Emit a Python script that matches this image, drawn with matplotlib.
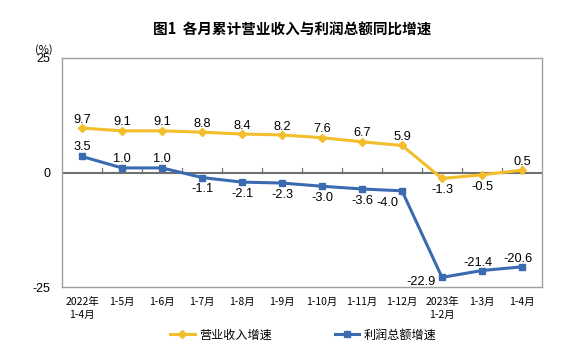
import matplotlib
matplotlib.use("Agg")
import matplotlib.pyplot as plt
from matplotlib.lines import Line2D

plt.rcParams['font.family'] = ['Liberation Sans', 'Noto Sans CJK SC', 'DejaVu Sans']

categories = ["2022年\n1-4月", "1-5月", "1-6月", "1-7月", "1-8月", "1-9月", "1-10月",
              "1-11月", "1-12月", "2023年\n1-2月", "1-3月", "1-4月"]
revenue = [9.7, 9.1, 9.1, 8.8, 8.4, 8.2, 7.6, 6.7, 5.9, -1.3, -0.5, 0.5]
profit = [3.5, 1.0, 1.0, -1.1, -2.1, -2.3, -3.0, -3.6, -4.0, -22.9, -21.4, -20.6]
yticks = [-25, 0, 25]

rev_color = "#F2BE2C"
prof_color = "#3A6BB0"
cjk = ['Noto Sans CJK SC', 'DejaVu Sans']

fig = plt.figure(figsize=(5.82, 3.48), dpi=100)
ax = fig.add_axes([62 / 582, 1 - 287 / 348, 480 / 582, 229 / 348])

x = list(range(len(categories)))
ax.plot(x, revenue, color=rev_color, lw=2.2, marker="D", ms=4.5, zorder=3)
ax.plot(x, profit, color=prof_color, lw=2.2, marker="s", ms=4.5, zorder=3)

ax.set_xlim(-0.5, len(categories) - 0.5)
ax.set_ylim(-25, 25)
ax.set_yticks(yticks)
ax.set_yticklabels([str(v) for v in yticks], fontsize=9)
ax.tick_params(axis="y", length=0, pad=8.5)
ax.set_xticks([])

for s in ax.spines.values():
    s.set_color("#A0A0A0")
    s.set_linewidth(1.0)

# zero line with small category-boundary ticks
ax.axhline(0, color="#707070", lw=1.5, zorder=2)
for b in range(1, len(categories)):
    ax.plot([b - 0.5, b - 0.5], [0, 0.9], color="#707070", lw=0.9, zorder=2)

# category labels below the frame
for i, lab in enumerate(categories):
    ax.text(i, -27.2, lab, ha="center", va="top", fontsize=7.5,
            family=cjk, linespacing=1.4, clip_on=False)


def label(i, v, dx, dy):
    ax.annotate(f"{v:.1f}", (i, v), xytext=(dx, dy), textcoords="offset points",
                ha="center", va="center", fontsize=9.2)


# value labels: above the point when rising, below when falling
for i, v in enumerate(revenue):
    label(i, v, 0, 6 if v >= 0 else -8.5)

for i, v in enumerate(profit):
    if v >= 0:
        label(i, v, 0, 6.5)
    elif i == 8:
        label(i, v, -10.5, -8.5)
    elif i == 9:
        label(i, v, -15, -3.5)
    elif i >= 10:
        label(i, v, -3, 5.5)
    else:
        label(i, v, 0, -8.5)

ax.text(-0.0375, 1.015, "(%)", transform=ax.transAxes, ha="center", va="bottom",
        fontsize=8, family=cjk)

fig.text(292.5 / 582, 1 - 30 / 348, "图1  各月累计营业收入与利润总额同比增速", ha="center",
         va="center", fontsize=10.5, fontweight="bold", family=cjk)

handles = [Line2D([0], [0], color=rev_color, lw=2.2, marker="D", ms=4),
           Line2D([0], [0], color=prof_color, lw=2.2, marker="s", ms=4)]
fig.legend(handles, ["营业收入增速", "利润总额增速"], loc="center",
           bbox_to_anchor=(303.5 / 582, 1 - 335 / 348), ncol=2, frameon=False,
           prop={"family": cjk, "size": 8.7}, handlelength=2.0, handletextpad=0.4,
           columnspacing=5.2)

fig.savefig("out.png", dpi=100)
